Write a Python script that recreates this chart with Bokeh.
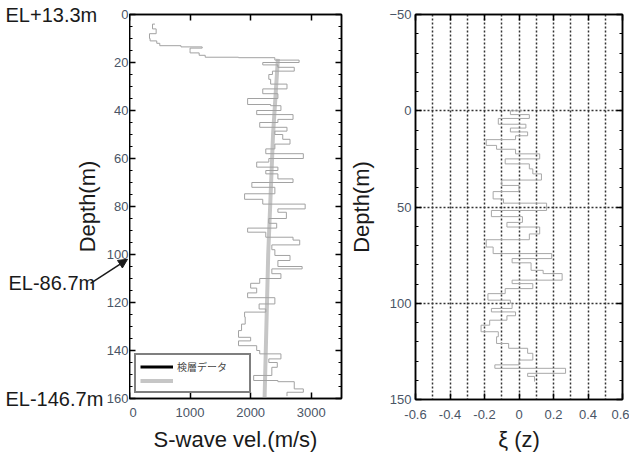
import math
from bokeh.plotting import figure
from bokeh.layouts import row
from bokeh.models import (Range1d, LinearAxis, SingleIntervalTicker, FixedTicker, Arrow,
                          NormalHead, Legend, LegendItem, NumeralTickFormatter,
                          CustomLabelingPolicy)
from bokeh.core.properties import value
from bokeh.embed import file_html
from bokeh.resources import INLINE

# ---------------- data ----------------
log_depth = [4, 6, 8, 10, 11, 12, 13, 13.5, 14, 15, 16, 17, 17.8, 18, 19, 20, 21, 22, 23.6, 25,
             27, 29, 31, 33, 35, 37.5, 38, 40, 41.7, 43.7, 45, 47, 48.6, 50, 52, 54, 56, 58, 60,
             61.5, 63.6, 65, 66.4, 68.5, 70, 72, 74.7, 77, 79, 81, 82.4, 85, 87, 89, 90.7, 92.8,
             94, 96, 98, 100.4, 102.5, 105, 106, 108, 110, 112, 114, 116, 118, 120.6, 122.7, 124,
             126, 129, 131.7, 134.5, 136, 138, 140, 141.4, 143.5, 145, 147, 150.4, 152.5, 153,
             156, 157.4, 159]
log_vel = [420, 380, 440, 330, 340, 450, 500, 850, 1200, 1000, 1000, 1150, 1250, 1800, 2400, 2800,
           2200, 2450, 2720, 2360, 2300, 2330, 2600, 2200, 2450, 1950, 2330, 2500, 2100, 2700,
           2450, 2150, 2600, 2400, 2530, 2650, 2400, 2250, 2870, 2300, 2100, 2450, 2250, 2450,
           2700, 2020, 2400, 1900, 2200, 2900, 2450, 2590, 2300, 2430, 1950, 2250, 2700, 2810,
           2350, 2400, 2650, 2450, 2850, 2350, 2500, 2150, 2000, 2100, 1950, 2400, 2140, 2250,
           1900, 1910, 1850, 1800, 2000, 1800, 2100, 2150, 2500, 2300, 2440, 2350, 2050, 2450,
           2720, 2870, 2600]

trend_depth = [18.5, 50, 100, 160]
trend_vel = [2450, 2370, 2290, 2230]

xi_depth = [0, 2, 4, 7, 9, 11, 13, 15, 18, 20, 22.4, 25, 27.6, 30.2, 32.8, 36, 38.8, 42, 45.8, 48,
            51.8, 55, 58, 60.4, 64, 67, 70.8, 74.2, 76.8, 79, 81.1, 82.9, 84.6, 88, 89.8, 92.4,
            95, 98.4, 100, 102.7, 104.5, 106.5, 108.8, 111.4, 114.8, 117.4, 120.9, 123.4, 126,
            129.5, 132, 133.8, 136.4, 138, 140.7]
xi_val = [0.02, -0.05, 0.06, -0.12, 0.04, -0.05, 0.05, -0.02, -0.19, -0.13, -0.02, 0.12, -0.08,
          0.06, 0.08, 0.13, -0.1, 0.0, -0.15, -0.09, 0.16, -0.16, 0.02, -0.07, 0.12, 0.06, -0.19,
          -0.15, 0.19, -0.04, 0.07, 0.07, 0.14, 0.25, -0.04, 0.08, -0.08, -0.18, -0.05, -0.04,
          -0.16, -0.02, -0.07, -0.17, -0.22, -0.12, -0.13, -0.06, 0.05, 0.08, 0.0, -0.14, 0.27,
          0.05, 0.09]

depth_ticks = [0, 20, 40, 60, 80, 100, 120, 140, 160]
xi_ticks = [-0.6, -0.4, -0.2, 0, 0.2, 0.4, 0.6]
el_labels = ["EL+13.3m", "EL-86.7m", "EL-146.7m"]
el_label_depth = [0.4, 112, 160.4]
legend_labels = ["検層データ", " "]

FONT = "Liberation Sans"
TICK_COLOR = "#4a5566"
HIDE_ALL = CustomLabelingPolicy(code="for (const i of indices) { indices.unset(i) } return indices")

H = 454
TOP = 14
BOTTOM = 56
HELPER_W = 129
PX_PER_M = (H - TOP - BOTTOM) / 160.0


def style_axis(ax, show_labels=True):
    ax.axis_line_color = "black"
    ax.axis_line_width = 1.5
    ax.major_tick_in = 6
    ax.major_tick_out = 0
    ax.minor_tick_in = 3
    ax.minor_tick_out = 0
    ax.major_tick_line_color = "black"
    ax.major_tick_line_width = 1.5
    ax.minor_tick_line_color = "black"
    ax.major_label_text_font = FONT
    ax.major_label_text_font_size = "13px"
    ax.major_label_text_color = TICK_COLOR
    ax.axis_label_text_font = FONT
    ax.axis_label_text_font_size = "22px"
    ax.axis_label_text_font_style = "normal"
    ax.axis_label_text_color = "#1a1a1a"
    if not show_labels:
        ax.major_label_text_font_size = "0px"
        ax.major_label_standoff = 0
        ax.major_label_policy = HIDE_ALL


# ---------------- left margin (labels outside the left frame) ----------------
ph = figure(width=HELPER_W, height=H, x_range=Range1d(0, HELPER_W),
            y_range=Range1d(160 + BOTTOM / PX_PER_M, -TOP / PX_PER_M),
            x_axis_type=None, y_axis_type=None, output_backend="svg", toolbar_location=None,
            min_border=0, outline_line_color=None, frame_align=False,
            background_fill_color="white", border_fill_color="white")
ph.grid.visible = False
ph.text(x=[HELPER_W - 1] * len(depth_ticks), y=depth_ticks, text=[str(t) for t in depth_ticks],
        text_align="right", text_baseline="middle", text_font=value(FONT),
        text_font_size=value("13px"), text_color=TICK_COLOR)
ph.text(x=[87], y=[80], text=["Depth(m)"], angle=math.pi / 2, text_align="center",
        text_baseline="middle", text_font=value(FONT), text_font_size=value("22px"),
        text_color="#1a1a1a")
ph.text(x=[5, 8, 5], y=el_label_depth, text=el_labels, text_align="left",
        text_baseline="middle", text_font=value(FONT), text_font_size=value("20px"),
        text_color="#1a1a1a")
ph.add_layout(Arrow(x_start=90, y_start=112, x_end=127, y_end=102,
                    line_color="#1a1a1a", line_width=1.5,
                    end=NormalHead(size=9, fill_color="#1a1a1a", line_color="#1a1a1a")))

# ---------------- left panel ----------------
p1 = figure(width=345 - HELPER_W, height=H, x_range=Range1d(0, 3500), y_range=Range1d(160, 0),
            output_backend="svg", toolbar_location=None, frame_align=False,
            min_border_left=0, min_border_right=4, min_border_top=TOP, min_border_bottom=BOTTOM,
            background_fill_color="white", border_fill_color="white")
p1.grid.visible = False
p1.outline_line_color = "black"
p1.outline_line_width = 1.5

xt1 = SingleIntervalTicker(interval=1000, num_minor_ticks=2)
yt1 = FixedTicker(ticks=depth_ticks, minor_ticks=list(range(0, 161, 5)))
p1.xaxis.ticker = xt1
p1.yaxis.ticker = yt1
p1.xaxis.axis_label = "S-wave vel.(m/s)"
style_axis(p1.xaxis[0])
style_axis(p1.yaxis[0], False)
p1.xaxis.minor_tick_line_color = None
p1.xaxis.major_label_standoff = 9
p1.xaxis.axis_label_standoff = 7

top1 = LinearAxis(ticker=xt1)
style_axis(top1, False)
top1.minor_tick_line_color = None
p1.add_layout(top1, "above")
right1 = LinearAxis(ticker=yt1)
style_axis(right1, False)
p1.add_layout(right1, "right")

r_trend = p1.line(x=trend_vel, y=trend_depth, line_color="#c6c6c6", line_width=4)
p1.step(x=log_vel, y=log_depth, mode="after", line_color="#a2a2a2", line_width=1)
r_leg = p1.line(x=[float("nan")], y=[float("nan")], line_color="black", line_width=3)

legend = Legend(items=[LegendItem(label=legend_labels[0], renderers=[r_leg]),
                       LegendItem(label=legend_labels[1], renderers=[r_trend])],
                location=(5, 5), label_text_font="Noto Sans CJK JP",
                label_text_font_size="10px", glyph_width=33, glyph_height=13,
                label_height=13, label_width=68, padding=4, spacing=0, label_standoff=4,
                border_line_color="black", border_line_width=2.5,
                background_fill_color="white", background_fill_alpha=1)
p1.add_layout(legend, "center")

# ---------------- right panel ----------------
p2 = figure(width=629 - 345, height=H, x_range=Range1d(-0.6, 0.6), y_range=Range1d(150, -50),
            output_backend="svg", toolbar_location=None, frame_align=False,
            min_border_left=70, min_border_right=7, min_border_top=TOP, min_border_bottom=54,
            background_fill_color="white", border_fill_color="white")
p2.outline_line_color = "black"
p2.outline_line_width = 1.5

xt2 = FixedTicker(ticks=xi_ticks)
yt2 = SingleIntervalTicker(interval=50, num_minor_ticks=5)
p2.xaxis.ticker = xt2
p2.yaxis.ticker = yt2
p2.xaxis.formatter = NumeralTickFormatter(format="0.[0]")
p2.xaxis.axis_label = "ξ (z)"
p2.yaxis.axis_label = "Depth(m)"
style_axis(p2.xaxis[0])
style_axis(p2.yaxis[0])
p2.xaxis.major_label_standoff = 10
p2.xaxis.axis_label_standoff = 5
p2.yaxis.major_label_standoff = 4
p2.yaxis.axis_label_standoff = 12

top2 = LinearAxis(ticker=xt2)
style_axis(top2, False)
p2.add_layout(top2, "above")
right2 = LinearAxis(ticker=yt2)
style_axis(right2, False)
p2.add_layout(right2, "right")

p2.xgrid.ticker = SingleIntervalTicker(interval=0.1)
p2.ygrid.ticker = SingleIntervalTicker(interval=50)
p2.grid.grid_line_color = "#333333"
p2.grid.grid_line_width = 1.5
p2.grid.grid_line_dash = "2 2"

p2.step(x=xi_val, y=xi_depth, mode="after", line_color="#a8a8a8", line_width=1)

layout = row(ph, p1, p2)
open("out.html", "w").write(file_html(layout, INLINE))
